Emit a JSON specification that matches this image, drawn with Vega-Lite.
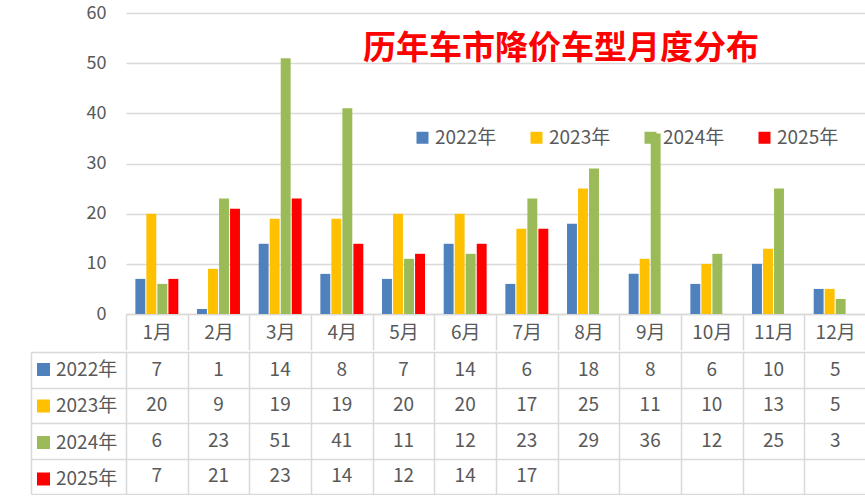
{
  "$schema": "https://vega.github.io/schema/vega-lite/v6.json",
  "autosize": {"type": "pad"},
  "padding": {"left": 30, "top": 4, "right": 0, "bottom": 0},
  "background": "white",
  "config": {
    "font": "Noto Sans CJK SC",
    "view": {"stroke": null}
  },
  "data": {
    "values": [
      {"month": "1月", "year": "2022年", "value": 7},
      {"month": "2月", "year": "2022年", "value": 1},
      {"month": "3月", "year": "2022年", "value": 14},
      {"month": "4月", "year": "2022年", "value": 8},
      {"month": "5月", "year": "2022年", "value": 7},
      {"month": "6月", "year": "2022年", "value": 14},
      {"month": "7月", "year": "2022年", "value": 6},
      {"month": "8月", "year": "2022年", "value": 18},
      {"month": "9月", "year": "2022年", "value": 8},
      {"month": "10月", "year": "2022年", "value": 6},
      {"month": "11月", "year": "2022年", "value": 10},
      {"month": "12月", "year": "2022年", "value": 5},
      {"month": "1月", "year": "2023年", "value": 20},
      {"month": "2月", "year": "2023年", "value": 9},
      {"month": "3月", "year": "2023年", "value": 19},
      {"month": "4月", "year": "2023年", "value": 19},
      {"month": "5月", "year": "2023年", "value": 20},
      {"month": "6月", "year": "2023年", "value": 20},
      {"month": "7月", "year": "2023年", "value": 17},
      {"month": "8月", "year": "2023年", "value": 25},
      {"month": "9月", "year": "2023年", "value": 11},
      {"month": "10月", "year": "2023年", "value": 10},
      {"month": "11月", "year": "2023年", "value": 13},
      {"month": "12月", "year": "2023年", "value": 5},
      {"month": "1月", "year": "2024年", "value": 6},
      {"month": "2月", "year": "2024年", "value": 23},
      {"month": "3月", "year": "2024年", "value": 51},
      {"month": "4月", "year": "2024年", "value": 41},
      {"month": "5月", "year": "2024年", "value": 11},
      {"month": "6月", "year": "2024年", "value": 12},
      {"month": "7月", "year": "2024年", "value": 23},
      {"month": "8月", "year": "2024年", "value": 29},
      {"month": "9月", "year": "2024年", "value": 36},
      {"month": "10月", "year": "2024年", "value": 12},
      {"month": "11月", "year": "2024年", "value": 25},
      {"month": "12月", "year": "2024年", "value": 3},
      {"month": "1月", "year": "2025年", "value": 7},
      {"month": "2月", "year": "2025年", "value": 21},
      {"month": "3月", "year": "2025年", "value": 23},
      {"month": "4月", "year": "2025年", "value": 14},
      {"month": "5月", "year": "2025年", "value": 12},
      {"month": "6月", "year": "2025年", "value": 14},
      {"month": "7月", "year": "2025年", "value": 17}
    ]
  },
  "spacing": 0,
  "resolve": {
    "scale": {"x": "independent", "y": "independent", "color": "independent"},
    "legend": {"color": "independent"}
  },
  "vconcat": [
    {
      "width": 740,
      "height": 301,
      "title": {
        "text": "历年车市降价车型月度分布",
        "color": "#FF0000",
        "fontSize": 33,
        "fontWeight": "bold",
        "anchor": "middle",
        "frame": "group",
        "dx": 65,
        "offset": -62
      },
      "mark": {"type": "bar"},
      "encoding": {
        "x": {
          "field": "month",
          "type": "nominal",
          "sort": ["1月", "2月", "3月", "4月", "5月", "6月", "7月", "8月", "9月", "10月", "11月", "12月"],
          "scale": {"paddingInner": 0, "paddingOuter": 0},
          "axis": {
            "title": null,
            "tickBand": "extent",
            "tickSize": 36,
            "tickColor": "#D9D9D9",
            "tickWidth": 1.5,
            "domainColor": "#D9D9D9",
            "domainWidth": 1.5,
            "labelAngle": 0,
            "labelFontSize": 19,
            "labelColor": "#595959",
            "labelBaseline": "middle",
            "labelPadding": -18,
            "minExtent": 36,
            "maxExtent": 36
          }
        },
        "xOffset": {
          "field": "year",
          "type": "nominal",
          "scale": {"paddingInner": 0.1, "paddingOuter": 0.85}
        },
        "y": {
          "field": "value",
          "type": "quantitative",
          "scale": {"domain": [0, 60]},
          "axis": {
            "values": [0, 10, 20, 30, 40, 50, 60],
            "title": null,
            "grid": true,
            "gridColor": "#D9D9D9",
            "gridWidth": 1.5,
            "domain": false,
            "ticks": false,
            "labelFontSize": 18,
            "labelColor": "#595959",
            "labelPadding": 20,
            "minExtent": 95
          }
        },
        "color": {
          "field": "year",
          "type": "nominal",
          "scale": {
            "domain": ["2022年", "2023年", "2024年", "2025年"],
            "range": ["#4F81BD", "#FFC000", "#9BBB59", "#FF0000"]
          },
          "legend": {
            "title": null,
            "orient": "none",
            "direction": "horizontal",
            "legendX": 287,
            "legendY": 115,
            "padding": 0,
            "symbolType": "square",
            "symbolSize": 144,
            "symbolStrokeWidth": 0,
            "labelFontSize": 19,
            "labelColor": "#595959",
            "labelOffset": 3,
            "columnPadding": 30
          }
        }
      }
    },
    {
      "width": 740,
      "height": 142,
      "encoding": {
        "x": {
          "field": "month",
          "type": "nominal",
          "sort": ["1月", "2月", "3月", "4月", "5月", "6月", "7月", "8月", "9月", "10月", "11月", "12月"],
          "scale": {"paddingInner": 0, "paddingOuter": 0},
          "axis": {
            "orient": "bottom",
            "title": null,
            "tickBand": "extent",
            "grid": true,
            "gridColor": "#D9D9D9",
            "gridWidth": 1.5,
            "ticks": false,
            "labels": false,
            "domain": false,
            "minExtent": 0,
            "maxExtent": 0
          }
        },
        "y": {
          "field": "year",
          "type": "nominal",
          "scale": {
            "domain": ["2022年", "2023年", "2024年", "2025年"],
            "paddingInner": 0,
            "paddingOuter": 0
          },
          "axis": {
            "orient": "left",
            "title": null,
            "offset": 95,
            "tickSize": -95,
            "tickBand": "extent",
            "tickColor": "#D9D9D9",
            "tickWidth": 1.5,
            "domainColor": "#D9D9D9",
            "domainWidth": 1.5,
            "grid": true,
            "gridColor": "#D9D9D9",
            "gridWidth": 1.5,
            "labels": false
          }
        }
      },
      "layer": [
        {
          "mark": {"type": "text", "fontSize": 19, "color": "#595959"},
          "encoding": {
            "text": {"field": "value", "type": "quantitative"}
          }
        },
        {
          "mark": {"type": "square", "opacity": 0},
          "encoding": {
            "color": {
              "field": "year",
              "type": "nominal",
              "scale": {
                "domain": ["2022年", "2023年", "2024年", "2025年"],
                "range": ["#4F81BD", "#FFC000", "#9BBB59", "#FF0000"]
              },
              "legend": {
                "title": null,
                "orient": "none",
                "direction": "vertical",
                "legendX": -92,
                "legendY": 8,
                "padding": 0,
                "symbolType": "square",
                "symbolSize": 169,
                "symbolOpacity": 1,
                "symbolStrokeWidth": 0,
                "labelFontSize": 19,
                "labelColor": "#595959",
                "labelOffset": 3,
                "rowPadding": 16.5
              }
            }
          }
        }
      ]
    }
  ]
}
